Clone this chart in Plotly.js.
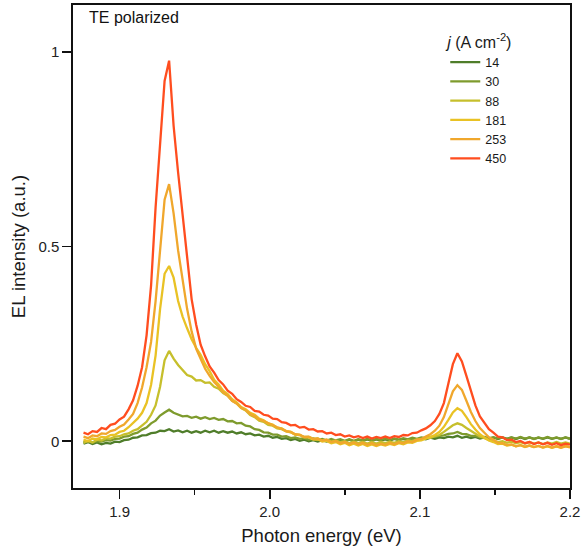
<!DOCTYPE html>
<html>
<head>
<meta charset="utf-8">
<script src="https://cdn.plot.ly/plotly-3.0.1.min.js"></script>
<style>html,body{margin:0;padding:0;background:#fff;}#chart{width:586px;height:551px;}</style>
</head>
<body>
<div id="chart"></div>
<script>
// Photon energy (eV)
const energy = [1.876,1.879,1.882,1.885,1.888,1.891,1.894,1.897,1.900,1.903,1.906,1.909,1.912,1.915,1.918,1.921,1.924,1.927,1.930,1.933,1.936,1.939,1.942,1.945,1.948,1.951,1.954,1.957,1.960,1.963,1.966,1.969,1.972,1.975,1.978,1.981,1.984,1.987,1.990,1.993,1.996,1.999,2.002,2.005,2.008,2.011,2.014,2.017,2.020,2.023,2.026,2.029,2.032,2.035,2.038,2.041,2.044,2.047,2.050,2.053,2.056,2.059,2.062,2.065,2.068,2.071,2.074,2.077,2.080,2.083,2.086,2.089,2.092,2.095,2.098,2.101,2.104,2.107,2.110,2.113,2.116,2.119,2.122,2.125,2.128,2.131,2.134,2.137,2.140,2.143,2.146,2.149,2.152,2.155,2.158,2.161,2.164,2.167,2.170,2.173,2.176,2.179,2.182,2.185,2.188,2.191,2.194,2.197,2.200];

const j14 = [-0.006,-0.002,-0.007,-0.003,-0.008,-0.004,-0.006,-0.001,-0.002,0.003,0.004,0.009,0.010,0.015,0.016,0.021,0.022,0.027,0.026,0.031,0.025,0.028,0.023,0.027,0.022,0.026,0.022,0.027,0.023,0.027,0.022,0.026,0.022,0.025,0.020,0.023,0.018,0.020,0.015,0.017,0.012,0.014,0.009,0.011,0.006,0.008,0.003,0.006,0.001,0.004,0.000,0.003,-0.001,0.003,-0.001,0.003,-0.001,0.003,0.000,0.004,0.000,0.004,0.001,0.005,0.001,0.005,0.002,0.005,0.002,0.006,0.003,0.006,0.003,0.007,0.004,0.008,0.005,0.009,0.006,0.010,0.008,0.012,0.010,0.014,0.009,0.012,0.008,0.011,0.007,0.010,0.006,0.010,0.006,0.010,0.006,0.010,0.006,0.010,0.006,0.010,0.006,0.009,0.006,0.010,0.006,0.009,0.006,0.010,0.006];

const j30 = [-0.003,0.001,-0.004,0.000,-0.001,0.003,0.002,0.006,0.007,0.012,0.013,0.019,0.022,0.030,0.035,0.046,0.053,0.066,0.074,0.081,0.073,0.069,0.064,0.065,0.060,0.063,0.058,0.062,0.057,0.060,0.055,0.057,0.051,0.052,0.046,0.047,0.040,0.038,0.031,0.029,0.023,0.022,0.017,0.017,0.012,0.013,0.008,0.010,0.006,0.008,0.004,0.007,0.003,0.006,0.002,0.006,0.002,0.005,0.001,0.005,0.001,0.005,0.002,0.006,0.002,0.006,0.003,0.007,0.003,0.007,0.004,0.008,0.005,0.009,0.006,0.010,0.008,0.011,0.011,0.014,0.015,0.019,0.020,0.024,0.019,0.018,0.014,0.014,0.010,0.011,0.008,0.010,0.007,0.010,0.006,0.010,0.007,0.011,0.007,0.010,0.006,0.010,0.007,0.011,0.007,0.010,0.006,0.010,0.007];

const j88 = [-0.004,0.001,-0.003,0.004,0.002,0.008,0.007,0.012,0.013,0.018,0.020,0.027,0.031,0.040,0.050,0.068,0.092,0.140,0.208,0.232,0.212,0.196,0.182,0.170,0.166,0.156,0.157,0.150,0.151,0.140,0.135,0.124,0.117,0.104,0.097,0.085,0.079,0.067,0.062,0.053,0.050,0.042,0.040,0.033,0.031,0.025,0.023,0.017,0.016,0.011,0.011,0.006,0.007,0.002,0.004,-0.001,0.002,-0.003,0.000,-0.005,-0.001,-0.005,-0.002,-0.006,-0.002,-0.006,-0.002,-0.005,-0.001,-0.004,0.000,-0.002,0.002,0.001,0.005,0.004,0.008,0.009,0.013,0.016,0.024,0.032,0.041,0.046,0.042,0.034,0.026,0.018,0.012,0.008,0.003,0.002,-0.002,0.000,-0.004,-0.001,-0.005,-0.002,-0.006,-0.002,-0.006,-0.003,-0.007,-0.003,-0.006,-0.002,-0.006,-0.003,-0.006];

const j181 = [0.004,0.000,0.007,0.005,0.011,0.010,0.016,0.017,0.024,0.027,0.036,0.046,0.058,0.073,0.098,0.145,0.220,0.340,0.430,0.450,0.420,0.360,0.320,0.290,0.262,0.240,0.222,0.198,0.180,0.158,0.146,0.130,0.121,0.108,0.100,0.088,0.082,0.073,0.068,0.058,0.054,0.046,0.043,0.035,0.033,0.026,0.024,0.017,0.016,0.010,0.010,0.004,0.005,-0.001,0.001,-0.005,-0.002,-0.008,-0.004,-0.010,-0.006,-0.011,-0.007,-0.012,-0.008,-0.012,-0.008,-0.011,-0.007,-0.010,-0.005,-0.008,-0.003,-0.004,0.001,0.002,0.007,0.010,0.016,0.024,0.037,0.055,0.074,0.085,0.078,0.062,0.044,0.030,0.018,0.010,0.002,-0.002,-0.007,-0.006,-0.011,-0.009,-0.013,-0.010,-0.015,-0.011,-0.015,-0.012,-0.016,-0.013,-0.017,-0.013,-0.016,-0.012,-0.015];

const j253 = [0.012,0.008,0.015,0.013,0.020,0.019,0.026,0.029,0.037,0.043,0.056,0.070,0.098,0.138,0.190,0.255,0.360,0.500,0.620,0.660,0.585,0.490,0.410,0.340,0.282,0.238,0.212,0.186,0.168,0.152,0.140,0.126,0.117,0.104,0.097,0.086,0.080,0.070,0.064,0.056,0.052,0.046,0.041,0.036,0.032,0.026,0.024,0.018,0.017,0.011,0.012,0.006,0.007,0.002,0.004,-0.002,0.001,-0.005,-0.002,-0.007,-0.003,-0.008,-0.004,-0.009,-0.005,-0.010,-0.006,-0.009,-0.004,-0.008,-0.003,-0.005,0.000,-0.002,0.004,0.006,0.012,0.018,0.027,0.040,0.062,0.094,0.128,0.144,0.132,0.104,0.075,0.052,0.034,0.022,0.010,0.004,-0.004,-0.005,-0.010,-0.008,-0.013,-0.010,-0.014,-0.011,-0.015,-0.012,-0.016,-0.012,-0.016,-0.013,-0.017,-0.013,-0.016];

const j450 = [0.022,0.018,0.026,0.024,0.034,0.031,0.042,0.045,0.056,0.063,0.082,0.105,0.142,0.190,0.272,0.400,0.600,0.775,0.925,0.977,0.810,0.690,0.585,0.470,0.365,0.300,0.248,0.218,0.192,0.176,0.157,0.146,0.130,0.122,0.108,0.101,0.091,0.088,0.078,0.076,0.068,0.066,0.058,0.057,0.049,0.047,0.041,0.042,0.035,0.037,0.030,0.031,0.025,0.026,0.020,0.022,0.016,0.018,0.012,0.015,0.010,0.013,0.008,0.012,0.007,0.011,0.008,0.012,0.008,0.013,0.011,0.016,0.015,0.021,0.022,0.028,0.033,0.041,0.052,0.070,0.098,0.148,0.198,0.226,0.205,0.168,0.128,0.092,0.064,0.046,0.031,0.022,0.012,0.010,0.003,0.004,-0.002,0.001,-0.005,-0.002,-0.007,-0.003,-0.008,-0.004,-0.009,-0.005,-0.010,-0.006,-0.009];

const seriesNames = ["14","30","88","181","253","450"];
const seriesData = [j14, j30, j88, j181, j253, j450];
const seriesColors = ["#4f7d2a","#7e9b2d","#c6bf2c","#e9c224","#f0a72c","#ff4d1f"];

const xTickVals = [1.9, 2.0, 2.1, 2.2];
const xTickText = ["1.9", "2.0", "2.1", "2.2"];
const xMinorVals = [1.95, 2.05, 2.15];
const yTickVals = [0, 0.5, 1];
const yTickText = ["0", "0.5", "1"];

const FONT = "Liberation Sans, Arial, sans-serif";

const traces = seriesData.map((ys, i) => ({
  x: energy, y: ys, type: "scatter", mode: "lines", name: seriesNames[i],
  line: {color: seriesColors[i], width: 2.3}
}));

const layout = {
  width: 586, height: 551,
  margin: {l: 73, r: 16, t: 5, b: 63},
  paper_bgcolor: "#fff", plot_bgcolor: "#fff",
  font: {family: FONT, color: "#1a1a1a"},
  showlegend: true,
  legend: {
    x: 0.749, y: 0.955, xanchor: "left", yanchor: "top",
    bgcolor: "rgba(0,0,0,0)",
    font: {size: 12.5, family: FONT, color: "#1a1a1a"},
    title: {text: "<i>j</i> (A cm<sup>-2</sup>)", font: {size: 16, family: FONT, color: "#1a1a1a"}},
    itemwidth: 30, tracegroupgap: 0
  },
  xaxis: {
    range: [1.869, 2.2], showgrid: false, zeroline: false,
    showline: true, linecolor: "#111", linewidth: 1.6, mirror: true,
    ticks: "outside", ticklen: 9, tickwidth: 1.6, tickcolor: "#111",
    tickmode: "array", tickvals: xTickVals, ticktext: xTickText,
    tickfont: {size: 15, family: FONT, color: "#222"},
    minor: {tickmode: "array", tickvals: xMinorVals, ticks: "outside", ticklen: 5, tickwidth: 1.6, tickcolor: "#111"},
    title: {text: "Photon energy (eV)", font: {size: 18.5, family: FONT, color: "#1a1a1a"}, standoff: 10}
  },
  yaxis: {
    range: [-0.12, 1.12], showgrid: false, zeroline: false,
    showline: true, linecolor: "#111", linewidth: 1.6, mirror: true,
    ticks: "outside", ticklen: 9, tickwidth: 1.6, tickcolor: "#111",
    tickmode: "array", tickvals: yTickVals, ticktext: yTickText,
    tickfont: {size: 15, family: FONT, color: "#222"},
    title: {text: "EL intensity (a.u.)", font: {size: 18.5, family: FONT, color: "#1a1a1a"}, standoff: 8}
  },
  annotations: [{
    text: "TE polarized", xref: "paper", yref: "paper", x: 0.028, y: 0.995,
    xanchor: "left", yanchor: "top", showarrow: false,
    font: {size: 16, family: FONT, color: "#111"}
  }]
};

Plotly.newPlot("chart", traces, layout, {displayModeBar: false, staticPlot: true});
</script>
</body>
</html>
